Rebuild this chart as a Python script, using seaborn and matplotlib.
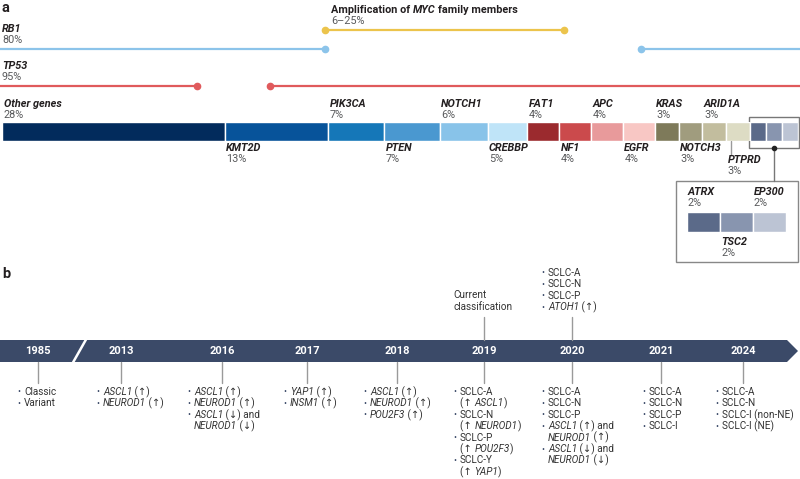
import matplotlib
matplotlib.use('Agg')
import numpy as np
import pandas as pd
import matplotlib.pyplot as plt
import seaborn as sns
from matplotlib.patches import Polygon, Rectangle

# ---- panel a: genomic alterations ----
genes = ['Other genes', 'KMT2D', 'PIK3CA', 'PTEN', 'NOTCH1', 'CREBBP',
         'FAT1', 'NF1', 'APC', 'EGFR', 'KRAS', 'NOTCH3', 'ARID1A', 'PTPRD',
         'ATRX', 'TSC2', 'EP300']
freqs = [28, 13, 7, 7, 6, 5, 4, 4, 4, 4, 3, 3, 3, 3, 2, 2, 2]
seg_colors = ['#022b5c', '#07539a', '#1577b8', '#4a98d0', '#88c3e9', '#bfe4f8',
              '#9b2a2e', '#cb4a4c', '#e89a9b', '#f8c7c4',
              '#7e7a5a', '#a09c7e', '#c2bd9e', '#dddcc4',
              '#5b6a89', '#8895af', '#bcc4d4']
label_side = ['above', 'below', 'above', 'below', 'above', 'below',
              'above', 'below', 'above', 'below', 'above', 'below', 'above', 'low',
              'above', 'below', 'above']
n_inset = 3

alt_names = ['RB1', 'TP53']
alt_freqs = ['80%', '95%']
alt_colors = ['#8cc4ea', '#e05a5c']
alt_spans = [[(-1, 40.6), (80.3, 101)], [(-1, 24.5), (33.7, 101)]]
myc_label = 'Amplification of '
myc_freq = '6–25%'
myc_span = (40.6, 70.6)
myc_color = '#ecc44c'

# ---- panel b: SCLC classification timeline ----
years = ['1985', '2013', '2016', '2017', '2018', '2019', '2020', '2021', '2024']
notes_below = {
    '1985': ['• Classic', '• Variant'],
    '2013': ['• *ASCL1* (↑)', '• *NEUROD1* (↑)'],
    '2016': ['• *ASCL1* (↑)', '• *NEUROD1* (↑)', '• *ASCL1* (↓) and', '*NEUROD1* (↓)'],
    '2017': ['• *YAP1* (↑)', '• *INSM1* (↑)'],
    '2018': ['• *ASCL1* (↑)', '• *NEUROD1* (↑)', '• *POU2F3* (↑)'],
    '2019': ['• SCLC-A', '(↑ *ASCL1*)', '• SCLC-N', '(↑ *NEUROD1*)',
             '• SCLC-P', '(↑ *POU2F3*)', '• SCLC-Y', '(↑ *YAP1*)'],
    '2020': ['• SCLC-A', '• SCLC-N', '• SCLC-P', '• *ASCL1* (↑) and', '*NEUROD1* (↑)',
             '• *ASCL1* (↓) and', '*NEUROD1* (↓)'],
    '2021': ['• SCLC-A', '• SCLC-N', '• SCLC-P', '• SCLC-I'],
    '2024': ['• SCLC-A', '• SCLC-N', '• SCLC-I (non-NE)', '• SCLC-I (NE)'],
}
notes_above = {
    '2019': ['Current', 'classification'],
    '2020': ['• SCLC-A', '• SCLC-N', '• SCLC-P', '• *ATOH1* (↑)'],
}

# layout (pixels)
year_x = [38, 121, 222, 307, 397, 484, 572, 661, 743]
bullet_x = [17, 96, 187, 283, 363, 453, 541, 642, 715]

sns.set_theme(style='white')
plt.rcParams['font.family'] = ['Roboto', 'DejaVu Sans']

W, H = 800, 479
fig = plt.figure(figsize=(W / 100, H / 100), dpi=100)
ax = fig.add_axes([0, 0, 1, 1])
ax.set_xlim(0, W)
ax.set_ylim(H, 0)
ax.axis('off')


def fig_rect(x0, y0, x1, y1):
    return [x0 / W, 1 - y1 / H, (x1 - x0) / W, (y1 - y0) / H]


def stacked(axis, names, vals, cols):
    df = pd.DataFrame({'gene': names, 'freq': vals, 'color': cols})
    df['start'] = df['freq'].cumsum() - df['freq']
    for _, row in df.iterrows():
        sns.barplot(x=[row.freq], y=[0], orient='h', left=row.start, color=row.color,
                    saturation=1, width=1, errorbar=None, edgecolor='white',
                    linewidth=1, ax=axis)
    axis.set_xlim(0, df['freq'].sum())
    axis.set_ylim(0.5, -0.5)
    axis.axis('off')
    # pixel x of each segment start
    xs = axis.transData.transform(np.column_stack([df['start'], np.zeros(len(df))]))[:, 0]
    return df, xs


NAME_C = '#231f20'
PCT_C = '#58595b'
TXT_C = '#333333'
NAVY = '#3b4a68'
GREY = '#9a9a9a'


def gene_label(x, y, name, pct, size=7.8):
    ax.text(x, y, name, fontsize=size, fontweight='bold', style='italic',
            color=NAME_C, va='center', ha='left')
    ax.text(x, y + 11, pct, fontsize=size, color=PCT_C, va='center', ha='left')


ax.text(2, 8, 'a', fontsize=10.5, fontweight='bold', color=NAME_C, va='center')
ax.text(2, 274, 'b', fontsize=10.5, fontweight='bold', color=NAME_C, va='center')

# main bar
ax_bar = fig.add_axes(fig_rect(2, 122, 798, 141))
n_main = len(genes) - n_inset
df_a, seg_x = stacked(ax_bar, genes, freqs, seg_colors)
for i in range(n_main):
    side = label_side[i]
    x = seg_x[i] + 1.5
    if side == 'above':
        gene_label(x, 104, genes[i], f'{freqs[i]}%')
    elif side == 'below':
        gene_label(x, 148, genes[i], f'{freqs[i]}%')
    else:
        ax.plot([x + 3, x + 3], [141, 155], color=GREY, lw=1)
        gene_label(x, 160, genes[i], f'{freqs[i]}%')

# alteration lines
line_x = ax_bar.transData


def to_px(p):
    if p < 0:
        return 0
    if p > 100:
        return W
    return line_x.transform((p, 0))[0]


for name, fq, col, spans, ty in zip(alt_names, alt_freqs, alt_colors, alt_spans, [29, 66]):
    gene_label(2, ty, name, fq)
    for a, b in spans:
        xa, xb = to_px(a), to_px(b)
        ax.plot([xa, xb], [ty + 20, ty + 20], color=col, lw=1.6, solid_capstyle='butt')
        for p, xp in ((a, xa), (b, xb)):
            if 0 <= p <= 100:
                ax.plot(xp, ty + 20, 'o', color=col, ms=4.5)

mx0, mx1 = to_px(myc_span[0]), to_px(myc_span[1])
t = ax.text(mx0 + 6, 10, myc_label, fontsize=7.8, fontweight='bold', color=NAME_C, va='center')
renderer = fig.canvas.get_renderer()
bb = t.get_window_extent(renderer)
t2 = ax.text(bb.x1, 10, 'MYC', fontsize=7.8, fontweight='bold', style='italic', color=NAME_C, va='center')
bb2 = t2.get_window_extent(renderer)
ax.text(bb2.x1 + 2.5, 10, 'family members', fontsize=7.8, fontweight='bold', color=NAME_C, va='center')
ax.text(mx0 + 6, 21, myc_freq, fontsize=7.8, color=PCT_C, va='center')
ax.plot([mx0, mx1], [30, 30], color=myc_color, lw=1.6)
ax.plot([mx0, mx1], [30, 30], 'o', color=myc_color, ms=4.5)

# bracket and inset
bx0 = seg_x[n_main] - 1
ax.add_patch(Rectangle((bx0, 117), 799 - bx0, 31, fill=False, ec='#777777', lw=1))
bxc = (bx0 + 799) / 2
ax.plot([bxc, bxc], [148, 181], color='#777777', lw=1)
ax.plot(bxc, 148, 'o', color='#222222', ms=3)
ax.add_patch(Rectangle((676, 181), 122, 81, fill=False, ec='#888888', lw=1))
ax_in = fig.add_axes(fig_rect(687, 212, 786, 232))
df_in, in_x = stacked(ax_in, genes[n_main:], freqs[n_main:], seg_colors[n_main:])
for k in range(n_inset):
    i = n_main + k
    if label_side[i] == 'above':
        gene_label(in_x[k] + 1, 192, genes[i], f'{freqs[i]}%')
    else:
        gene_label(in_x[k] + 1, 242, genes[i], f'{freqs[i]}%')

# timeline band
ax.add_patch(Polygon([(0, 340), (787, 340), (798, 351), (787, 362), (0, 362)],
                     closed=True, fc=NAVY, ec='none'))
ax.plot([73, 86], [362.5, 339.5], color='white', lw=1.8, solid_capstyle='butt')
for yr, xc in zip(years, year_x):
    ax.text(xc, 351.5, yr, fontsize=8, fontweight='bold', color='white',
            ha='center', va='center')


def text_w(s, **kw):
    tt = ax.text(0, 0, s, **kw)
    w = tt.get_window_extent(renderer).width
    tt.remove()
    return w


def rich_line(x, y, line, size=7.2, color=TXT_C):
    parts = line.split('*')
    for k, part in enumerate(parts):
        if not part:
            continue
        style = 'italic' if k % 2 else 'normal'
        ax.text(x, y, part, fontsize=size, style=style, color=color, va='center', ha='left')
        x += text_w('|' + part + '|', fontsize=size, style=style) - text_w('||', fontsize=size, style=style)


def note_block(xb, y0, lines, step=11.4):
    for j, line in enumerate(lines):
        y = y0 + j * step
        if line.startswith('• '):
            ax.text(xb, y, '•', fontsize=6.5, color=NAVY, va='center', ha='left')
            rich_line(xb + 7, y, line[2:])
        else:
            rich_line(xb + 7, y, line)


for yr, xc, xb in zip(years, year_x, bullet_x):
    ax.plot([xc, xc], [362, 383], color=GREY, lw=1)
    note_block(xb, 392, notes_below[yr])
    if yr in notes_above:
        ax.plot([xc, xc], [317, 340], color=GREY, lw=1)
        lines = notes_above[yr]
        if yr == '2019':
            for j, line in enumerate(lines):
                rich_line(xb, 295 + j * 12, line)
        else:
            note_block(xb, 307 - (len(lines) - 1) * 11.4, lines)

fig.savefig('out.png', dpi=100)
